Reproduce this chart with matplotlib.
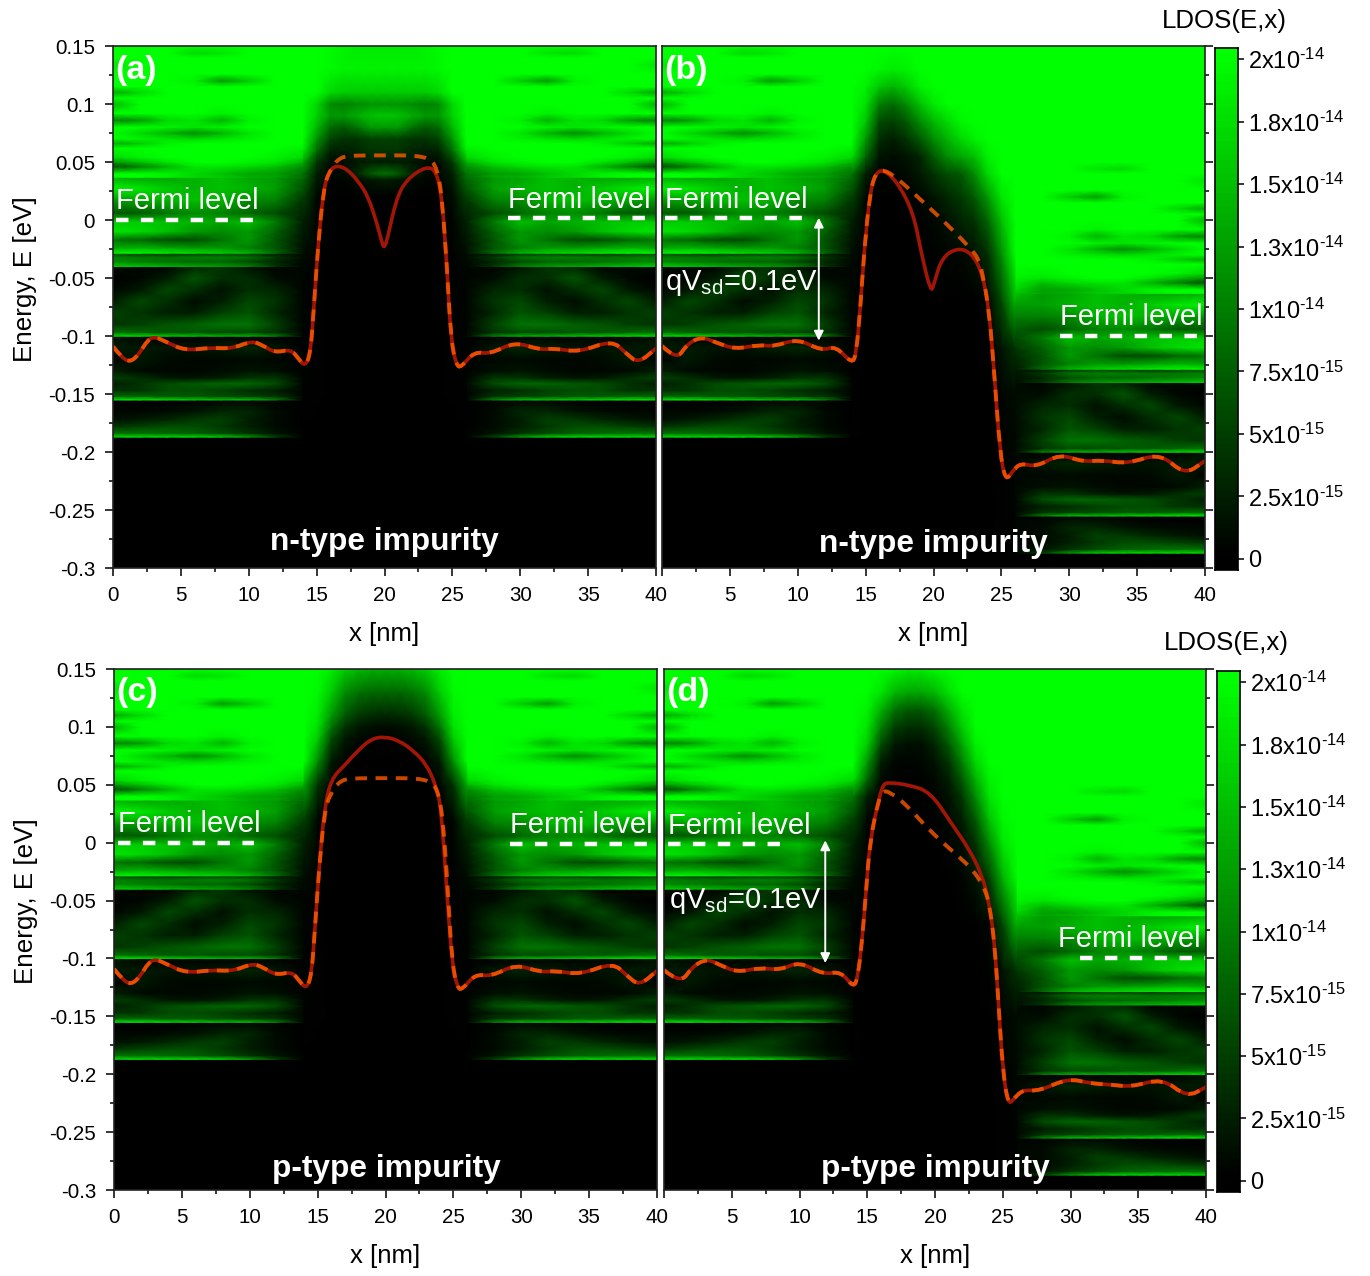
#!/usr/bin/env python

import numpy as np
import matplotlib as mpl
mpl.use('Agg')
import matplotlib.pyplot as plt
from matplotlib.colors import LinearSegmentedColormap
from matplotlib.path import Path
from matplotlib.patches import PathPatch

plt.rcParams['font.family'] = ['Liberation Sans', 'DejaVu Sans']
plt.rcParams['mathtext.default'] = 'regular'

W, H = 1370, 1276
LDOS_MAX = 2e-14

# LDOS of the contact region, as a fraction of LDOS_MAX
lead_x = [0, 2, 4, 6, 8, 10, 12, 14]
lead_E = [-0.30, -0.1875, -0.187, -0.184, -0.178, -0.172, -0.165, -0.157, -0.1555, -0.155,
          -0.152, -0.147, -0.141, -0.136, -0.13, -0.12, -0.11, -0.1005, -0.1, -0.097,
          -0.09, -0.08, -0.07, -0.06, -0.05, -0.0405, -0.04, -0.036, -0.032, -0.029,
          -0.0285, -0.024, -0.017, -0.01, -0.0015, 0.006, 0.017, 0.027, 0.0365, 0.037,
          0.04, 0.046, 0.05, 0.054, 0.062, 0.066, 0.07, 0.075, 0.08, 0.086,
          0.092, 0.1, 0.105, 0.11, 0.115, 0.12, 0.126, 0.134, 0.14, 0.144, 0.15]
lead_ldos = [
    [0, 0, 0, 0, 0, 0, 0, 0],
    [0, 0, 0, 0, 0, 0, 0, 0],
    [.85, .85, .85, .85, .8, .6, .25, .01],
    [.45, .45, .42, .38, .3, .2, .08, .01],
    [.2, .25, .3, .3, .22, .12, .04, 0],
    [.06, .1, .15, .22, .25, .12, .04, 0],
    [.03, .03, .05, .08, .15, .15, .04, 0],
    [0, 0, 0, .02, .04, .05, .02, 0],
    [0, 0, 0, 0, .01, .01, 0, 0],
    [.9, .9, .85, .8, .75, .75, .5, .02],
    [.4, .4, .35, .35, .3, .25, .2, .02],
    [.2, .2, .3, .3, .25, .18, .12, .02],
    [.12, .2, .3, .35, .4, .4, .3, .03],
    [.25, .18, .1, .08, .12, .2, .2, .02],
    [.12, .04, .03, .03, .05, .08, .06, .01],
    [.02, .1, .04, .03, .03, .04, .03, .01],
    [.1, .1, .08, .08, .12, .15, .1, .01],
    [.08, .02, .01, .01, .01, 0, 0, 0],
    [.85, .85, .8, .75, .7, .7, .5, .02],
    [.45, .4, .35, .35, .3, .3, .2, .02],
    [.2, .25, .33, .38, .45, .45, .25, .02],
    [.25, .2, .12, .12, .25, .33, .15, .02],
    [.12, .28, .18, .05, .12, .28, .2, .02],
    [.03, .1, .28, .18, .07, .18, .15, .02],
    [0, .03, .12, .33, .18, .18, .05, .02],
    [.05, .03, .02, .15, .2, .08, .02, .02],
    [.8, .75, .7, .65, .6, .5, .22, .02],
    [.55, .5, .45, .4, .4, .3, .15, .03],
    [.5, .47, .45, .5, .5, .45, .22, .05],
    [.3, .25, .2, .22, .25, .2, .1, .05],
    [.95, .95, .9, .85, .8, .7, .42, .06],
    [.65, .7, .65, .6, .6, .5, .33, .07],
    [.45, .4, .3, .3, .45, .6, .33, .08],
    [.9, .85, .75, .6, .55, .6, .38, .1],
    [.8, .8, .75, .7, .65, .75, .48, .12],
    [.35, .35, .45, .55, .5, .4, .3, .14],
    [.6, .65, .7, .75, .7, .55, .5, .2],
    [.95, .9, .8, .7, .75, .7, .62, .32],
    [.7, .65, .65, .7, .75, .65, .6, .4],
    [1, 1, .95, .85, .8, .7, .65, .42],
    [1, 1, .95, .85, .75, .65, .62, .45],
    [.3, .5, .7, .9, .9, .85, .75, .55],
    [.6, .75, .9, 1, 1, .95, .9, .7],
    [.85, .95, 1, 1, 1, 1, .95, .85],
    [1, 1, 1, 1, 1, 1, 1, .95],
    [.65, .8, .95, 1, 1, 1, 1, 1],
    [1, .95, .9, .85, .9, .95, 1, 1],
    [1, .85, .7, .55, .7, .9, 1, 1],
    [1, 1, .95, .9, .95, 1, 1, 1],
    [.5, .6, .85, .9, .7, .95, 1, 1],
    [1, 1, 1, 1, .95, 1, 1, 1],
    [.7, 1, 1, 1, 1, 1, 1, 1],
    [1, 1, 1, 1, 1, 1, 1, 1],
    [.65, .85, 1, 1, 1, 1, 1, 1],
    [1, 1, 1, 1, 1, 1, 1, 1],
    [1, 1, 1, .95, .6, .8, 1, 1],
    [1, 1, 1, 1, 1, 1, 1, 1],
    [.9, 1, 1, 1, 1, 1, 1, 1],
    [1, 1, 1, 1, 1, 1, 1, 1],
    [1, 1, 1, .85, .9, 1, 1, 1],
    [1, 1, 1, 1, 1, 1, 1, 1],
]
# brightness of the right contact where it meets the barrier (x = 26), same rows as lead_E
right_edge = [0, 0, .02, .02, .02, .02, .02, .02, .02, .03,
              .03, .03, .03, .03, .03, .03, .03, .03, .04, .04,
              .04, .04, .04, .05, .05, .05, .06, .07, .08, .09,
              .1, .12, .16, .22, .28, .36, .5, .62, .75, .78,
              .85, .92, .95, .97, 1, 1, 1, 1, 1, 1,
              1, 1, 1, 1, 1, 1, 1, 1, 1, 1, 1]

# barrier region, symmetric panels: x = 14..20, mirrored about 20
sym_x = [14, 15, 16, 17, 18, 19, 20]
sym_E_a = [-0.30, -0.19, -0.05, -0.03, 0.0, 0.02, 0.035, 0.04, 0.05, 0.06, 0.07, 0.08, 0.09, 0.1, 0.11, 0.13, 0.15]
sym_ldos_a = [
    [0, 0, 0, 0, 0, 0, 0],
    [0, 0, 0, 0, 0, 0, 0],
    [.02, .01, 0, 0, 0, 0, 0],
    [.05, .01, 0, 0, 0, 0, 0],
    [.13, .02, 0, 0, 0, 0, 0],
    [.25, .04, .01, 0, 0, 0, 0],
    [.4, .1, .02, .02, .05, .1, .12],
    [.45, .12, .03, .05, .15, .35, .45],
    [.65, .22, .05, .05, .1, .12, .12],
    [.92, .42, .14, .12, .15, .2, .2],
    [1, .58, .27, .2, .2, .25, .25],
    [1, .72, .42, .35, .45, .6, .6],
    [1, .82, .6, .6, .68, .75, .78],
    [1, .85, .55, .5, .55, .58, .58],
    [1, 1, .85, .8, .8, .8, .8],
    [1, 1, .98, .95, .95, .95, .95],
    [1, 1, .98, .95, .92, .92, .92],
]
sym_E_c = [-0.30, -0.19, -0.05, -0.03, 0.0, 0.02, 0.05, 0.07, 0.09, 0.1, 0.11, 0.13, 0.15]
sym_ldos_c = [
    [0, 0, 0, 0, 0, 0, 0],
    [0, 0, 0, 0, 0, 0, 0],
    [.02, .01, 0, 0, 0, 0, 0],
    [.05, .01, 0, 0, 0, 0, 0],
    [.13, .02, 0, 0, 0, 0, 0],
    [.25, .03, 0, 0, 0, 0, 0],
    [.65, .2, .02, 0, 0, 0, 0],
    [1, .55, .1, .01, 0, 0, 0],
    [1, .8, .3, .1, .04, .02, .01],
    [1, .88, .45, .2, .1, .06, .05],
    [1, .93, .6, .35, .22, .17, .15],
    [1, .98, .8, .55, .45, .4, .4],
    [1, 1, .93, .8, .72, .68, .68],
]

# barrier region, biased panels: x = 14..26
bias_x = [14, 15, 16, 17, 18, 19, 20, 21, 22, 23, 24, 25, 26]
bias_E = [-0.30, -0.2, -0.15, -0.11, -0.07, -0.03, 0.0, 0.02, 0.04, 0.055, 0.07, 0.085, 0.10, 0.115, 0.13, 0.15]
bias_ldos_b = [
    [0, 0, 0, 0, 0, 0, 0, 0, 0, 0, 0, 0, 0],
    [0, 0, 0, 0, 0, 0, 0, 0, 0, 0, 0, .01, .03],
    [.01, 0, 0, 0, 0, 0, 0, 0, 0, 0, 0, .02, .05],
    [.01, 0, 0, 0, 0, 0, 0, 0, 0, 0, .01, .08, .2],
    [.02, 0, 0, 0, 0, 0, 0, 0, 0, 0, .03, .28, .7],
    [.05, 0, 0, 0, 0, 0, .01, .02, .03, .07, .18, .55, .97],
    [.13, .01, 0, 0, 0, .01, .03, .07, .14, .2, .4, .75, 1],
    [.25, .03, 0, 0, .01, .03, .08, .15, .22, .35, .6, .9, 1],
    [.45, .12, .02, .02, .04, .1, .2, .3, .35, .55, .85, 1, 1],
    [.88, .4, .08, .05, .08, .15, .35, .55, .65, .75, .95, 1, 1],
    [1, .6, .18, .12, .2, .35, .55, .7, .85, .95, 1, 1, 1],
    [1, .78, .3, .25, .35, .55, .72, .85, .97, 1, 1, 1, 1],
    [1, .88, .5, .42, .55, .75, .92, 1, 1, 1, 1, 1, 1],
    [1, .95, .78, .7, .8, .95, 1, 1, 1, 1, 1, 1, 1],
    [1, 1, .97, .93, .95, 1, 1, 1, 1, 1, 1, 1, 1],
    [1, 1, 1, 1, 1, 1, 1, 1, 1, 1, 1, 1, 1],
]
bias_ldos_d = [
    [0, 0, 0, 0, 0, 0, 0, 0, 0, 0, 0, 0, 0],
    [0, 0, 0, 0, 0, 0, 0, 0, 0, 0, 0, .01, .03],
    [.01, 0, 0, 0, 0, 0, 0, 0, 0, 0, 0, .02, .05],
    [.01, 0, 0, 0, 0, 0, 0, 0, 0, 0, .01, .08, .2],
    [.02, 0, 0, 0, 0, 0, 0, 0, 0, 0, .03, .28, .7],
    [.05, 0, 0, 0, 0, 0, 0, 0, .02, .08, .25, .7, .97],
    [.13, .01, 0, 0, 0, 0, 0, .01, .06, .2, .55, .9, 1],
    [.25, .03, 0, 0, 0, 0, .01, .04, .12, .35, .75, .97, 1],
    [.45, .12, .01, 0, 0, 0, .02, .07, .22, .55, .9, 1, 1],
    [.88, .4, .04, .01, .01, .01, .04, .12, .35, .7, .95, 1, 1],
    [1, .6, .12, .03, .02, .03, .08, .2, .5, .85, 1, 1, 1],
    [1, .8, .3, .1, .06, .06, .15, .35, .65, .95, 1, 1, 1],
    [1, .9, .5, .25, .18, .18, .28, .5, .8, 1, 1, 1, 1],
    [1, .95, .7, .45, .35, .35, .45, .68, .9, 1, 1, 1, 1],
    [1, 1, .9, .72, .65, .65, .72, .88, 1, 1, 1, 1, 1],
    [1, 1, 1, .97, .92, .92, .97, 1, 1, 1, 1, 1, 1],
]

# potential profiles
pot_x_a = [0, .6, 1.25, 1.9, 2.55, 3.1, 3.9, 5.3, 7.2, 8.75, 10.2, 11, 11.9, 13.1, 13.65, 14.15, 14.55, 14.8, 15.1, 15.5, 15.9, 16.4, 17.2, 18.1, 18.8, 19.45, 19.85, 20, 20.2, 20.85, 21.6, 23.1, 23.85, 24.25, 24.6, 24.9, 25.3, 25.65, 26.6, 27.8, 29.6, 31.45, 32.5, 34.35, 36.75, 37.8, 38.7, 40]
pot_E_a = [-.109, -.118, -.1227, -.116, -.1034, -.1006, -.105, -.1126, -.110, -.111, -.1043, -.1078, -.1144, -.1115, -.1193, -.1264, -.115, -.0747, -.023, .026, .0417, .047, .0445, .033, .02, -.0029, -.0215, -.0236, -.017, .0175, .0348, .0466, .0417, .017, -.0405, -.104, -.1255, -.127, -.1135, -.1155, -.105, -.112, -.1106, -.114, -.1035, -.115, -.1236, -.1106]
dash_x_a = [0, .6, 1.25, 1.9, 2.55, 3.1, 3.9, 5.3, 7.2, 8.75, 10.2, 11, 11.9, 13.1, 13.65, 14.15, 14.55, 14.8, 15.1, 15.5, 15.9, 16.7, 18, 20, 22.2, 23.3, 23.7, 24, 24.25, 24.6, 24.9, 25.3, 25.65, 26.6, 27.8, 29.6, 31.45, 32.5, 34.35, 36.75, 37.8, 38.7, 40]
dash_E_a = [-.109, -.118, -.1227, -.116, -.1034, -.1006, -.105, -.1126, -.110, -.111, -.1043, -.1078, -.1144, -.1115, -.1193, -.1264, -.115, -.0747, -.023, .026, .0417, .0546, .0557, .0557, .0557, .053, .048, .037, .017, -.0405, -.104, -.1255, -.127, -.1135, -.1155, -.105, -.112, -.1106, -.114, -.1035, -.115, -.1236, -.1106]

pot_x_b = [0, 1.05, 1.85, 2.9, 3.95, 5.4, 7.1, 8.3, 10, 11.75, 12.8, 14, 14.3, 14.6, 14.9, 15.3, 15.7, 16.35, 17.4, 18.5, 19.1, 19.8, 20.05, 20.6, 21.75, 22.8, 23.6, 24.1, 24.5, 24.9, 25.3, 25.85, 26.4, 27.6, 29.3, 31, 32.45, 34.3, 36.7, 38.5, 40]
pot_E_b = [-.1085, -.121, -.107, -.1006, -.1055, -.1114, -.1076, -.109, -.1023, -.1128, -.1085, -.124, -.1157, -.0778, -.0254, .0213, .0402, .0437, .0315, .0067, -.0283, -.0627, -.0545, -.0327, -.0239, -.0283, -.0458, -.0778, -.1362, -.2003, -.2251, -.2163, -.2096, -.2128, -.2017, -.2085, -.207, -.2102, -.2009, -.2198, -.2076]
dash_x_b = [0, 1.05, 1.85, 2.9, 3.95, 5.4, 7.1, 8.3, 10, 11.75, 12.8, 14, 14.3, 14.6, 14.9, 15.3, 15.7, 16.35, 17.4, 18.7, 20.6, 22.7, 23.35, 23.6, 24.1, 24.5, 24.9, 25.3, 25.85, 26.4, 27.6, 29.3, 31, 32.45, 34.3, 36.7, 38.5, 40]
dash_E_b = [-.1085, -.121, -.107, -.1006, -.1055, -.1114, -.1076, -.109, -.1023, -.1128, -.1085, -.124, -.1157, -.0778, -.0254, .0213, .0402, .0437, .0353, .0213, .0009, -.0239, -.0341, -.0458, -.0778, -.1362, -.2003, -.2251, -.2163, -.2096, -.2128, -.2017, -.2085, -.207, -.2102, -.2009, -.2198, -.2076]

pot_x_c = [0, .6, 1.25, 1.9, 2.55, 3.1, 3.9, 5.3, 7.2, 8.75, 10.2, 11, 11.9, 13.1, 13.65, 14.15, 14.55, 14.8, 15.1, 15.5, 16, 17, 18, 19, 20, 21, 22, 23, 23.7, 24.1, 24.5, 24.9, 25.3, 25.65, 26.6, 27.8, 29.6, 31.45, 32.5, 34.35, 36.75, 37.8, 38.7, 40]
pot_E_c = [-.109, -.118, -.1227, -.116, -.1034, -.1006, -.105, -.1126, -.110, -.111, -.1043, -.1078, -.1144, -.1115, -.1193, -.1264, -.115, -.0747, -.023, .03, .055, .067, .08, .09, .0915, .088, .08, .068, .05, .03, -.04, -.104, -.1255, -.127, -.1135, -.1155, -.105, -.112, -.1106, -.114, -.1035, -.115, -.1236, -.1106]

pot_x_d = [0, 1.2, 2.1, 3.15, 4.1, 5.4, 7, 8.6, 10, 11.75, 13.05, 14, 14.3, 14.6, 14.9, 15.2, 15.9, 16.2, 16.6, 18, 19.65, 21.2, 22.55, 23.5, 24, 24.4, 24.7, 25, 25.4, 25.9, 26.5, 27.7, 29.8, 31.5, 33, 34.5, 36.8, 38.6, 40]
pot_E_d = [-.11, -.122, -.107, -.1003, -.1055, -.112, -.108, -.11, -.1027, -.114, -.111, -.1255, -.116, -.087, -.044, .002, .04, .0507, .052, .05, .044, .0168, -.006, -.029, -.052, -.087, -.1415, -.196, -.227, -.22, -.2135, -.2145, -.2035, -.208, -.209, -.211, -.2035, -.22, -.211]
dash_x_d = [0, 1.2, 2.1, 3.15, 4.1, 5.4, 7, 8.6, 10, 11.75, 13.05, 14, 14.3, 14.6, 14.9, 15.2, 15.9, 16.2, 16.6, 17.8, 19.65, 21.75, 22.8, 23.6, 24, 24.4, 24.7, 25, 25.4, 25.9, 26.5, 27.7, 29.8, 31.5, 33, 34.5, 36.8, 38.6, 40]
dash_E_d = [-.11, -.122, -.107, -.1003, -.1055, -.112, -.108, -.11, -.1027, -.114, -.111, -.1255, -.116, -.087, -.044, .002, .04, .0445, .044, .034, .0096, -.012, -.0235, -.038, -.052, -.087, -.1415, -.196, -.227, -.22, -.2135, -.2145, -.2035, -.208, -.209, -.211, -.2035, -.22, -.211]

y_ticks = [0.15, 0.1, 0.05, 0, -0.05, -0.1, -0.15, -0.2, -0.25, -0.3]
y_labels = ['0.15', '0.1', '0.05', '0', '-0.05', '-0.1', '-0.15', '-0.2', '-0.25', '-0.3']
x_ticks = [0, 5, 10, 15, 20, 25, 30, 35, 40]
x_labels = ['0', '5', '10', '15', '20', '25', '30', '35', '40']
HY = '\u2010'
cbar_ticks = [0, 2.5e-15, 5e-15, 7.5e-15, 1e-14, 1.25e-14, 1.5e-14, 1.75e-14, 2e-14]
cbar_labels = ['0', '2.5x10$^{' + HY + '15}$', '5x10$^{' + HY + '15}$', '7.5x10$^{' + HY + '15}$', '1x10$^{' + HY + '14}$',
               '1.3x10$^{' + HY + '14}$', '1.5x10$^{' + HY + '14}$', '1.8x10$^{' + HY + '14}$', '2x10$^{' + HY + '14}$']

cmap = LinearSegmentedColormap.from_list('ldos', ['#000000', '#00ff00'])
norm = mpl.colors.Normalize(0, LDOS_MAX)
RED = '#a31606'
ORANGE = '#ff5a00'


def px_axes(fig, x0, y0, x1, y1):
    return fig.add_axes([x0 / W, 1 - y1 / H, (x1 - x0) / W, (y1 - y0) / H])


def patch(ax, x, E, table):
    X, Y = np.meshgrid(x, E)
    ax.pcolormesh(X, Y, np.array(table) * LDOS_MAX, shading='gouraud', cmap=cmap, norm=norm)


def draw_map(ax, panel):
    left_x = np.array(lead_x, float)
    table = np.array(lead_ldos)
    patch(ax, left_x, lead_E, table)
    right_x = 40 - left_x[::-1]
    if panel in 'ac':
        patch(ax, right_x, lead_E, table[:, ::-1])
        E_c, T_c = (sym_E_a, sym_ldos_a) if panel == 'a' else (sym_E_c, sym_ldos_c)
        half = np.array(T_c)
        full = np.hstack([half, half[:, -2::-1]])
        fx = sym_x + [40 - v for v in sym_x[-2::-1]]
        patch(ax, fx, E_c, full)
    else:
        # right contact sits qV lower, nothing but bright states above it
        sE = np.append(np.array(lead_E) - 0.1, 0.15)
        sT = table[:, ::-1].copy()
        sT[:, 0] = right_edge
        sT = np.vstack([sT, np.ones(8)])
        patch(ax, right_x, sE, sT)
        patch(ax, bias_x, bias_E, bias_ldos_b if panel == 'b' else bias_ldos_d)


def style_axes(ax, left=True):
    ax.set_xlim(0, 40)
    ax.set_ylim(-0.3, 0.15)
    ax.set_xticks(x_ticks)
    ax.set_xticklabels(x_labels if left else [''] + x_labels[1:])
    ax.set_xticks([2.5 + 5 * i for i in range(8)], minor=True)
    ax.set_yticks(y_ticks)
    ax.set_yticks([0.125 - 0.05 * i for i in range(9)], minor=True)
    ax.tick_params(which='major', length=6, width=1.1, labelsize=14.8, pad=7)
    ax.tick_params(which='minor', length=3, width=1.1)
    ax.set_xlabel('x [nm]', fontsize=18.5, labelpad=12)
    if left:
        ax.set_yticklabels(y_labels)
        ax.set_ylabel('Energy, E [eV]', fontsize=18.7)
        ax.yaxis.set_label_coords(-0.14, 0.554)
    else:
        ax.yaxis.tick_right()
        ax.tick_params(axis='y', labelright=False)
    for s in ax.spines.values():
        s.set_linewidth(1.2)
        s.set_color('#222222')


def smooth_line(ax, x, y, **kw):
    # quadratic bezier through the read points, the source curve is smooth
    pts = np.column_stack([x, y])
    verts = [pts[0]]
    codes = [Path.MOVETO]
    for i in range(1, len(pts) - 1):
        verts += [pts[i], (pts[i] + pts[i + 1]) / 2]
        codes += [Path.CURVE3, Path.CURVE3]
    verts.append(pts[-1])
    codes.append(Path.LINETO)
    ax.add_patch(PathPatch(Path(verts, codes), fill=False, **kw))


def fermi(ax, x0, x1, y, tx, ty):
    ax.plot([x0, x1], [y, y], color='white', lw=3.2, linestyle=(0, (2.8, 2.8)), solid_capstyle='butt')
    ax.text(tx, ty, 'Fermi level', color='white', fontsize=21, ha='left', va='baseline')


def draw_colorbar(fig, box, title_xy):
    cax = px_axes(fig, *box)
    levels = np.linspace(-0.045e-14, 2.045e-14, 80)
    cax.pcolormesh([0, 1], levels, levels[:-1].reshape(-1, 1), cmap=cmap, norm=norm)
    cax.set_xticks([])
    cax.yaxis.tick_right()
    cax.set_yticks(cbar_ticks)
    cax.set_yticklabels(cbar_labels)
    cax.tick_params(length=4, width=1.1, labelsize=17, pad=3)
    for s in cax.spines.values():
        s.set_linewidth(1.2)
    fig.text(title_xy[0] / W, 1 - title_xy[1] / H, 'LDOS(E,x)', fontsize=18.6, ha='left', va='baseline')


def main():
    fig = plt.figure(figsize=(W / 100, H / 100), dpi=100)

    ax_a = px_axes(fig, 113, 46, 656, 568)
    ax_b = px_axes(fig, 662, 46, 1205, 568)
    ax_c = px_axes(fig, 114, 669, 657, 1190)
    ax_d = px_axes(fig, 664, 669, 1206, 1190)

    for ax, panel in zip([ax_a, ax_b, ax_c, ax_d], 'abcd'):
        draw_map(ax, panel)
        style_axes(ax, left=panel in 'ac')

    for ax, panel, ty in zip([ax_a, ax_b, ax_c, ax_d], 'abcd', [.129, .129, .1295, .1295]):
        ax.text(0.2, ty, '(%s)' % panel, color='white', fontsize=24.5, fontweight='bold', va='center')

    curves = [(ax_a, pot_x_a, pot_E_a, dash_x_a, dash_E_a),
              (ax_b, pot_x_b, pot_E_b, dash_x_b, dash_E_b),
              (ax_c, pot_x_c, pot_E_c, dash_x_a, dash_E_a),
              (ax_d, pot_x_d, pot_E_d, dash_x_d, dash_E_d)]
    for ax, px, pe, dx, de in curves:
        smooth_line(ax, px, pe, edgecolor=RED, lw=2.6)
        smooth_line(ax, dx, de, edgecolor=ORANGE, lw=2.8, alpha=0.8, linestyle=(0, (3.0, 2.2)))

    fermi(ax_a, 0.2, 10.3, 0.0, 0.2, 0.0095)
    fermi(ax_a, 29.1, 39.7, 0.0015, 29.1, 0.0105)
    fermi(ax_b, 0.2, 10.3, 0.0015, 0.2, 0.0105)
    fermi(ax_b, 29.3, 40, -0.1, 29.3, -0.0905)
    fermi(ax_c, 0.3, 10.3, 0.0, 0.3, 0.0095)
    fermi(ax_c, 29.2, 39.7, -0.001, 29.2, 0.0085)
    fermi(ax_d, 0.3, 9, -0.001, 0.3, 0.0075)
    fermi(ax_d, 30.7, 40, -0.1, 29.1, -0.0905)

    for ax, xa, xt, yt in [(ax_b, 11.55, 0.2, -0.06), (ax_d, 11.9, 0.4, -0.056)]:
        ax.annotate('', xy=(xa, 0.002), xytext=(xa, -0.104),
                    arrowprops=dict(arrowstyle='<|-|>', color='white', lw=1.4, mutation_scale=14, shrinkA=0, shrinkB=0))
        ax.text(xt, yt, 'qV$_{sd}$=0.1eV', color='white', fontsize=21, va='baseline')

    ax_a.text(20, -0.2845, 'n-type impurity', color='white', fontsize=22.8, fontweight='bold', ha='center', va='baseline')
    ax_b.text(20.0, -0.2865, 'n-type impurity', color='white', fontsize=22.8, fontweight='bold', ha='center', va='baseline')
    ax_c.text(20.1, -0.289, 'p-type impurity', color='white', fontsize=22.8, fontweight='bold', ha='center', va='baseline')
    ax_d.text(20.0, -0.289, 'p-type impurity', color='white', fontsize=22.8, fontweight='bold', ha='center', va='baseline')

    draw_colorbar(fig, (1215, 48, 1238, 570), (1162, 28))
    draw_colorbar(fig, (1217, 671, 1240, 1192), (1164, 650))

    fig.savefig('out.png', dpi=100)


if __name__ == '__main__':
    main()
